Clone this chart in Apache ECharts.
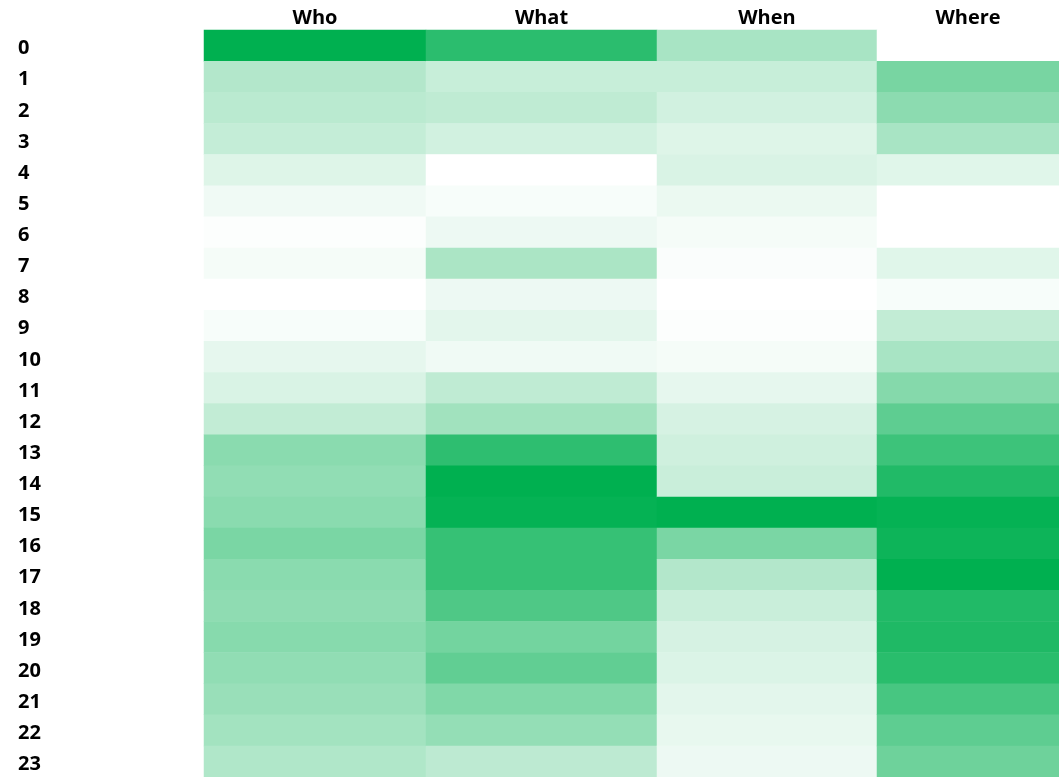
<!DOCTYPE html>
<html>
<head>
<meta charset="utf-8">
<script src="https://cdn.jsdelivr.net/npm/echarts@6/dist/echarts.min.js"></script>
<style>
  html, body { margin: 0; padding: 0; background: #ffffff; }
  #chart { width: 1059px; height: 777px; }
</style>
</head>
<body>
<div id="chart"></div>
<script>
// Hour of day (rows) and question type (columns)
const hours = ['0','1','2','3','4','5','6','7','8','9','10','11','12','13','14','15','16','17','18','19','20','21','22','23'];
const columns = ['Who', 'What', 'When', 'Where'];

// Relative activity per hour, one list per column (each column has its own colour scale)
const whoValues   = [100, 30, 27, 23, 13, 6, 1, 4, 0, 3, 10, 15, 24, 46, 43, 46, 52, 46, 44, 47, 43, 40, 36, 31];
const whatValues  = [83, 22, 25, 18, 0, 3, 7, 33, 7, 11, 6, 25, 37, 82, 100, 98, 79, 79, 69, 55, 62, 50, 42, 26];
const whenValues  = [34, 22, 18, 13, 15, 8, 4, 2, 0, 1, 4, 10, 16, 19, 21, 100, 52, 30, 21, 16, 14, 11, 9, 7];
const whereValues = [0, 53, 45, 34, 12, 0, 0, 12, 3, 24, 34, 48, 63, 76, 87, 98, 95, 100, 87, 88, 84, 72, 63, 57];

const columnValues = [whoValues, whatValues, whenValues, whereValues];

// Column boxes in pixels (left edge, width); columns are not all equally wide
const columnBoxes = [
  { left: 204, width: 222 },
  { left: 426, width: 231 },
  { left: 657, width: 220 },
  { left: 877, width: 184 }
];

const FONT = '"Open Sans", "Liberation Sans", sans-serif';

const grid = [], xAxis = [], yAxis = [], series = [], visualMap = [];

columns.forEach((name, k) => {
  const values = columnValues[k];
  grid.push({ left: columnBoxes[k].left, width: columnBoxes[k].width, top: 30, bottom: 0, containLabel: false });
  xAxis.push({
    type: 'category', gridIndex: k, position: 'top', data: [name],
    axisLine: { show: false }, axisTick: { show: false }, splitLine: { show: false },
    axisLabel: { color: '#000', fontFamily: FONT, fontWeight: 'bold', fontSize: 20, margin: 2 }
  });
  yAxis.push({
    type: 'category', gridIndex: k, data: hours, inverse: true,
    axisLine: { show: false }, axisTick: { show: false }, splitLine: { show: false },
    axisLabel: k === 0
      ? {
          show: true, align: 'left', margin: 186,
          formatter: '{h|{value}}',
          rich: { h: { color: '#000', fontFamily: FONT, fontWeight: 'bold', fontSize: 20, padding: [6, 0, 0, 0] } }
        }
      : { show: false }
  });
  series.push({
    type: 'heatmap', xAxisIndex: k, yAxisIndex: k,
    data: values.map((v, i) => [0, i, v]),
    itemStyle: { borderWidth: 0 },
    emphasis: { disabled: true },
    progressive: 0
  });
  visualMap.push({
    type: 'continuous', show: false, seriesIndex: k, dimension: 2,
    min: Math.min(...values), max: Math.max(...values),
    inRange: { color: ['#FFFFFF', '#00B050'] }
  });
});

const chart = echarts.init(document.getElementById('chart'), null, { renderer: 'canvas' });
chart.setOption({
  animation: false,
  backgroundColor: '#ffffff',
  grid, xAxis, yAxis, series, visualMap
});
</script>
</body>
</html>
